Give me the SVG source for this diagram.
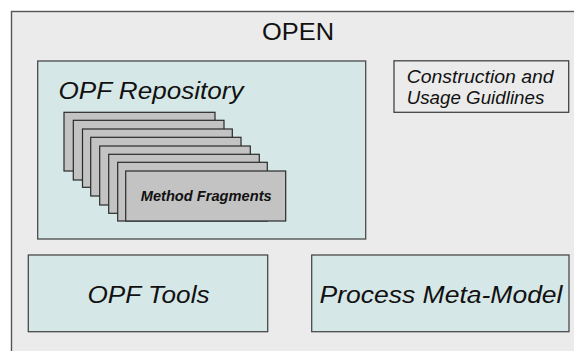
<svg xmlns="http://www.w3.org/2000/svg" width="574" height="351" viewBox="0 0 574 351">
<style>
.t{font-family:"Liberation Sans",Arial,sans-serif;fill:#111;}
.i{font-style:italic;}
.box{fill:#d6e7e7;stroke:#4a4a4a;stroke-width:1.3;}
.card{fill:#c3c3c3;stroke:#2a2a2a;stroke-width:1.2;}
</style>
<rect x="0" y="0" width="574" height="351" fill="#ffffff"/>
<g id="open">
<rect x="11.5" y="11.5" width="600" height="400" fill="#ebebeb" stroke="#555" stroke-width="1.4"/>
<text class="t" x="262" y="40" font-size="24" textLength="72" lengthAdjust="spacingAndGlyphs">OPEN</text>
</g>
<g id="opf-repository">
<rect class="box" x="37.7" y="61" width="328" height="178"/>
<text class="t i" x="58.5" y="98.5" font-size="24" textLength="185" lengthAdjust="spacingAndGlyphs">OPF Repository</text>
</g>
<g id="method-fragments">
<rect class="card" x="64" y="112.3" width="151" height="58.7"/>
<rect class="card" x="73.3" y="120.3" width="150.7" height="59.7"/>
<rect class="card" x="82.5" y="129" width="149.8" height="58.3"/>
<rect class="card" x="90.7" y="137.3" width="150.3" height="58.7"/>
<rect class="card" x="99.7" y="146" width="150.6" height="59"/>
<rect class="card" x="108.7" y="154.3" width="150.6" height="59"/>
<rect class="card" x="117.7" y="162.3" width="149.6" height="58.7"/>
<rect class="card" x="125.7" y="171" width="160" height="50"/>
<text class="t i" x="140.7" y="200.7" font-size="14" font-weight="bold" textLength="131" lengthAdjust="spacingAndGlyphs">Method Fragments</text>
</g>
<g id="guidelines">
<rect x="394" y="60.8" width="174.7" height="51.5" fill="#ebebeb" stroke="#444" stroke-width="1.3"/>
<text class="t i" x="406.7" y="83.3" font-size="17.5" textLength="147" lengthAdjust="spacingAndGlyphs">Construction and</text>
<text class="t i" x="406.7" y="103.5" font-size="17.5" textLength="137.6" lengthAdjust="spacingAndGlyphs">Usage Guidlines</text>
</g>
<g id="opf-tools">
<rect class="box" x="28.3" y="255" width="239.4" height="76.7"/>
<text class="t i" x="87.5" y="302.7" font-size="24.5" textLength="122" lengthAdjust="spacingAndGlyphs">OPF Tools</text>
</g>
<g id="process-meta-model">
<rect class="box" x="311.7" y="255" width="257.3" height="76.7"/>
<text class="t i" x="319.5" y="302.7" font-size="24.5" textLength="243" lengthAdjust="spacingAndGlyphs">Process Meta-Model</text>
</g>
<g id="connectors"/>
</svg>
